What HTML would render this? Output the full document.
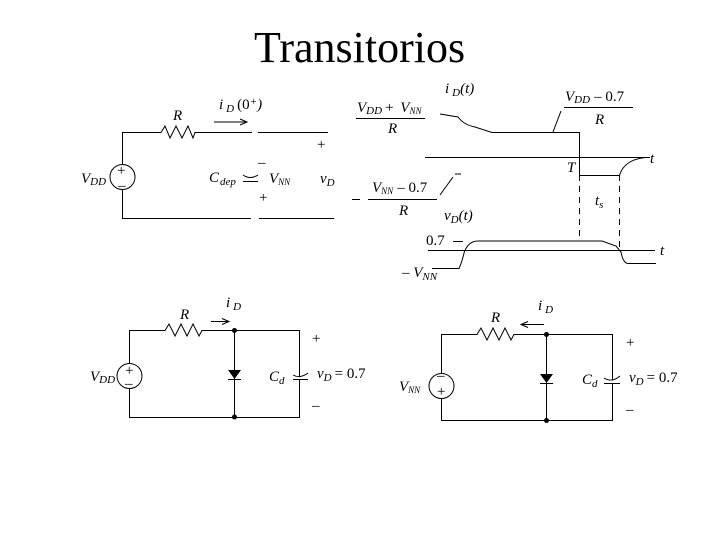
<!DOCTYPE html>
<html><head><meta charset="utf-8"><style>
html,body{margin:0;padding:0;background:#fff}
svg{display:block}
text{font-family:"Liberation Serif",serif;fill:#000}
.i{font-style:italic;font-size:15px}
.s{font-size:11px;font-style:italic}
.n{font-size:15px}
</style></head><body>
<svg width="720" height="540" viewBox="0 0 720 540" xmlns="http://www.w3.org/2000/svg">
<text x="254" y="62" style="font-size:44px">Transitorios</text>
<g fill="none" stroke="#000" stroke-width="1">
<!-- top-left circuit -->
<path d="M122.500 165V132.500H158L161 132.500L165 126L170 138L176 126L182 138L188 126L193 138L195 132.500H252M258 132.500H328"/>
<path d="M122.500 190V218.500H251M259 218.500H334"/>
<circle cx="122.500" cy="177" r="12.500"/>
<path d="M214 122H246M240 119L247 122L240 125"/>
<path d="M243 181.500H258M243 175Q250 180 258 175"/>
<!-- timing -->
<path d="M356 118.500H425M564 107.500H633M368 199.500H437"/>
<path d="M553 132L561 111M440 195L453 177M455 174H461M352 199.500H360"/>
<path d="M425 157.500H650M428 250.500H655"/>
<path d="M440 114L458 117Q464 125 475 127L492 132.500H579.500V175.500H619.500Q624 160 645 157.500"/>
<path d="M579.500 175V241M619.500 175V250" stroke-dasharray="6 5"/>
<path d="M432 268.500H459Q462 262 464 253Q468 241 478 241H602L616 246L621 252Q623 263 628 263.500H656"/>
<path d="M453 241.500H463"/>
<!-- bottom-left circuit -->
<path d="M129.500 364V330.500H165L169 324L175 336L181 324L187 336L193 324L199 336L202 330.500H299.500V376M299.500 380V417.500H129.500V388M234.500 330.500V417.500"/>
<circle cx="129.500" cy="376" r="12.500"/>
<path d="M211 321.500H228M222 318.500L229 321.500L222 324.500"/>
<path d="M228 379.500H241M293 379.500H308M293 375Q300 379 308 373"/>
<!-- bottom-right circuit -->
<path d="M441.500 374V334.500H477L481 328L487 340L493 328L499 340L505 328L511 340L514 334.500H612.500V380M612.500 384V420.500H441.500V398M546.500 334.500V420.500"/>
<circle cx="441.500" cy="386" r="12.500"/>
<path d="M544 324.500H521M528 321.500L521 324.500L528 327.500"/>
<path d="M540 383.500H553M604 383.500H620M604 378Q612 383 620 376"/>
</g>
<g fill="#000">
<path d="M228 370H241L234.500 379Z"/>
<path d="M540 374H553L546.500 383Z"/>
<circle cx="234.500" cy="330.500" r="2.500"/><circle cx="234.500" cy="417" r="2.500"/>
<circle cx="546.500" cy="334.500" r="2.500"/><circle cx="546.500" cy="420.500" r="2.500"/>
</g>
<!-- labels: top-left -->
<text class="i" x="173" y="120">R</text>
<text class="i" x="219" y="109">i<tspan class="s" dx="3" dy="3">D</tspan><tspan class="n" font-style="normal" dx="3" dy="-3">(0</tspan><tspan class="s" font-style="normal" dy="-4">+</tspan><tspan class="n" dy="4">)</tspan></text>
<text class="i" x="81" y="183">V<tspan class="s" dy="2">DD</tspan></text>
<text class="n" x="117" y="175">+</text><text class="n" x="118" y="190">–</text>
<text class="i" x="209" y="182">C<tspan class="s" dx="1" dy="3">dep</tspan></text>
<text class="i" x="269" y="183">V<tspan class="s" dy="2" style="font-size:9px">NN</tspan></text>
<text class="i" x="320" y="183">v<tspan class="s" dy="3">D</tspan></text>
<text class="n" x="317" y="149">+</text><text class="n" x="258" y="167">–</text>
<text class="n" x="259" y="202">+</text>
<!-- labels: timing -->
<text class="i" x="445" y="93">i<tspan class="s" dx="3" dy="3">D</tspan><tspan dy="-3">(t)</tspan></text>
<text class="i" x="357" y="112">V<tspan class="s" dy="2">DD</tspan><tspan class="n" font-style="normal" dx="3" dy="-2">+</tspan><tspan dx="3"> V</tspan><tspan class="s" dy="2" style="font-size:9px">NN</tspan></text>
<text class="i" x="388" y="133">R</text>
<text class="i" x="565" y="101">V<tspan class="s" dy="2">DD</tspan><tspan class="n" font-style="normal" dx="4" dy="-2">– 0.7</tspan></text>
<text class="i" x="595" y="124">R</text>
<text class="i" x="650" y="163">t</text>
<text class="i" x="567" y="172">T</text>
<text class="i" x="595" y="205">t<tspan class="s" dy="3">s</tspan></text>
<text class="i" x="372" y="192">V<tspan class="s" dy="2" style="font-size:9px">NN</tspan><tspan class="n" font-style="normal" dx="4" dy="-2">– 0.7</tspan></text>
<text class="i" x="399" y="215">R</text>
<text class="i" x="444" y="220">v<tspan class="s" dy="3">D</tspan><tspan dy="-3">(t)</tspan></text>
<text class="n" x="426" y="245">0.7</text>
<text class="i" x="660" y="255">t</text>
<text class="i" x="402" y="277"><tspan class="n" font-style="normal">– </tspan>V<tspan class="s" dy="3">NN</tspan></text>
<!-- labels: bottom-left -->
<text class="i" x="180" y="319">R</text>
<text class="i" x="226" y="307">i<tspan class="s" dx="3" dy="3">D</tspan></text>
<text class="i" x="90" y="381">V<tspan class="s" dy="2">DD</tspan></text>
<text class="n" x="125" y="375">+</text><text class="n" x="125" y="388">–</text>
<text class="n" x="312" y="343">+</text><text class="n" x="312" y="410">–</text>
<text class="i" x="269" y="381">C<tspan class="s" dy="3">d</tspan></text>
<text class="i" x="317" y="378">v<tspan class="s" dy="3">D</tspan><tspan class="n" font-style="normal" dx="3" dy="-3">= 0.7</tspan></text>
<!-- labels: bottom-right -->
<text class="i" x="491" y="322">R</text>
<text class="i" x="538" y="310">i<tspan class="s" dx="3" dy="3">D</tspan></text>
<text class="i" x="399" y="391">V<tspan class="s" dy="2" style="font-size:9px">NN</tspan></text>
<text class="n" x="437" y="380">–</text><text class="n" x="437" y="396">+</text>
<text class="n" x="626" y="347">+</text><text class="n" x="626" y="414">–</text>
<text class="i" x="582" y="384">C<tspan class="s" dy="3">d</tspan></text>
<text class="i" x="629" y="382">v<tspan class="s" dy="3">D</tspan><tspan class="n" font-style="normal" dx="3" dy="-3">= 0.7</tspan></text>
</svg>
</body></html>
